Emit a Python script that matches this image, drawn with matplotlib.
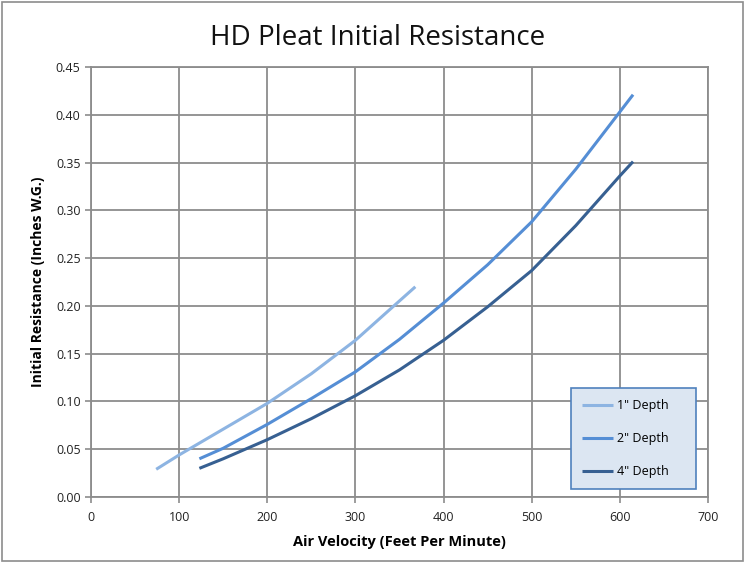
import matplotlib
matplotlib.use('Agg')
import matplotlib.pyplot as plt
from matplotlib.patches import Rectangle

plt.rcParams['font.family'] = ['Open Sans', 'DejaVu Sans']

# values
x_1in = [74, 100, 150, 200, 250, 300, 340, 368]
y_1in = [0.029, 0.044, 0.071, 0.098, 0.129, 0.164, 0.197, 0.220]

x_2in = [123, 150, 200, 250, 300, 350, 400, 450, 500, 550, 600, 615]
y_2in = [0.040, 0.051, 0.076, 0.103, 0.131, 0.165, 0.203, 0.243, 0.288, 0.343, 0.403, 0.421]

x_4in = [123, 150, 200, 250, 300, 350, 400, 450, 500, 550, 600, 615]
y_4in = [0.030, 0.040, 0.060, 0.082, 0.106, 0.133, 0.164, 0.199, 0.237, 0.284, 0.336, 0.351]

labels = ['1" Depth', '2" Depth', '4" Depth']
colors = ['#8DB4E2', '#558ED5', '#376092']

fig = plt.figure(figsize=(7.45, 5.63), dpi=100)
ax = fig.add_axes([0.1221, 0.1172, 0.8282, 0.7638])

for xs, ys, lab, c in zip([x_1in, x_2in, x_4in], [y_1in, y_2in, y_4in], labels, colors):
    ax.plot(xs, ys, color=c, lw=2.2, label=lab, solid_capstyle='butt',
            solid_joinstyle='round')

ax.set_xlim(0, 700)
ax.set_ylim(0, 0.45)
ax.set_xticks(range(0, 701, 100))
ax.set_yticks([i * 0.05 for i in range(10)])
ax.set_yticklabels(['%.2f' % (i * 0.05) for i in range(10)])
ax.grid(True, color='#8c8c8c', lw=1.3)
ax.set_axisbelow(True)
for s in ax.spines.values():
    s.set_color('#8c8c8c')
    s.set_linewidth(1.3)
ax.tick_params(colors='#8c8c8c', labelcolor='#222222', labelsize=9, length=4, width=1.2)
ax.tick_params(axis='x', pad=6)

ax.set_xlabel('Air Velocity (Feet Per Minute)', fontsize=10.5, fontweight='bold', labelpad=8)
ax.set_ylabel('Initial Resistance (Inches W.G.)', fontsize=10, fontweight='bold', labelpad=8)
fig.text(0.507, 0.933, 'HD Pleat Initial Resistance', ha='center', va='center',
         fontsize=20, color='#111111')

leg = ax.legend(loc='center', bbox_to_anchor=(0.778, 0.0186, 0.2026, 0.235),
                mode='expand', fancybox=False, fontsize=9, handlelength=2.5,
                labelspacing=1.6, handletextpad=0.3, borderpad=0.9, borderaxespad=0)
leg.get_frame().set_facecolor('#DCE6F2')
leg.get_frame().set_edgecolor('#4F81BD')
leg.get_frame().set_alpha(1)
leg.get_frame().set_linewidth(1.2)

fig.patches.append(Rectangle((0.003, 0.003), 0.994, 0.994, transform=fig.transFigure,
                             fill=False, edgecolor='#8c8c8c', lw=1.2))

fig.savefig('out.png', dpi=100)
